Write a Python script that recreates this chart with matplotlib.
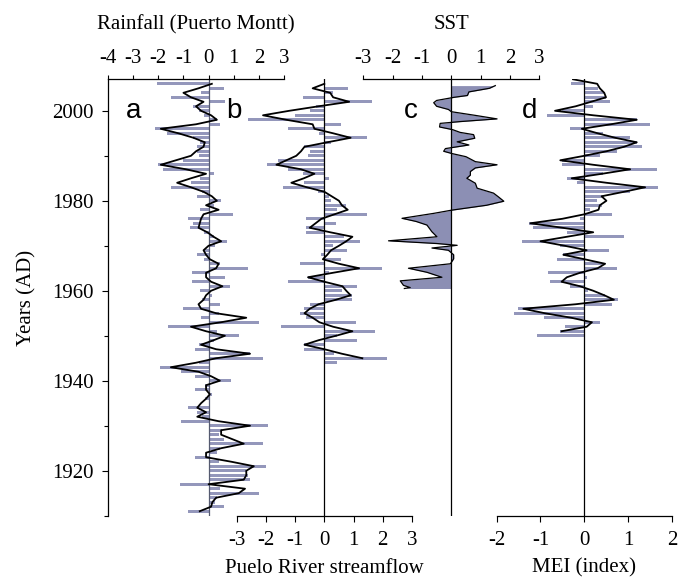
import numpy as np
import matplotlib
matplotlib.use("Agg")
import matplotlib.pyplot as plt

plt.rcParams['font.family'] = ['Liberation Serif', 'DejaVu Serif']
plt.rcParams['axes.unicode_minus'] = False

BAR = '#9497bb'

# a: rainfall (Puerto Montt), 1911-2006
rain_years = list(range(1911, 2007))
rain_bars = [-0.8, 0.6, 0.26, 0.33, 2.0, 0.46, -1.15, 1.65, 1.58, 1.5,
             2.3, 0.4, -0.53, 0.33, 0.46, 2.15, 0.6, 0.4, 0.53, 2.38,
             -1.1, -0.26, -0.46, -0.83, 0.07, -0.13, 0.13, -0.53, -0.13, 0.9,
             -0.53, -1.1, -1.94, -0.4, 2.15, 1.65, -0.53, -0.4, 0.2, 1.23,
             0.33, -1.6, 2.0, -0.3, 0.4, -1.0, 0.46, -0.26, 0.13, -0.33,
             0.86, -0.66, 0.66, -0.66, 1.58, 0.46, -0.2, -0.46, -0.2, 0.26,
             0.73, 0.2, -0.2, -0.73, -0.6, -0.8, 0.96, -0.33, 0.2, 0.5,
             -0.45, -0.26, -1.5, -0.7, -0.33, 0.2, -1.8, -2.0, -1.0, -0.4,
             -0.45, -0.45, -0.33, -0.6, -1.65, -2.15, 0.46, 0.33, -0.2, -0.4,
             -0.6, 0.66, -1.5, -0.3, 0.6, -2.07]
rain_line = [-0.35, 0.1, 0.15, 0.3, 1.2, 1.45, 0.0, 1.4, 1.5, 1.5,
             1.8, 0.9, -0.1, -0.1, 0.5, 1.4, 0.95, 0.5, 0.5, 1.65,
             0.4, -0.45, -0.1, -0.45, -0.3, -0.1, 0.05, -0.1, -0.1, 0.45,
             0.1, -0.4, -1.5, -0.5, 0.3, 1.65, 0.3, -0.3, 0.2, 0.65,
             -0.1, -0.7, 0.5, 1.5, 0.3, -0.3, -0.4, -0.2, -0.1, 0.1,
             0.55, 0.1, -0.1, -0.1, 0.3, 0.4, 0.05, -0.1, -0.2, 0.0,
             0.5, 0.2, -0.05, -0.4, -0.35, -0.3, -0.2, 0.4, -0.1, 0.33,
             0.13, -0.2, -0.7, -1.25, -0.7, -0.1, -0.9, -1.9, -1.3, -0.7,
             -0.5, -0.2, -0.15, -0.6, -1.2, -1.9, -0.5, 0.33, 0.1, -0.3,
             -0.5, -0.2, -0.7, -1.0, -0.4, 0.13]

# b: Puelo River streamflow, 1944-2005 (bars), 1945-2006 (line)
flow_years = list(range(1944, 2006))
flow_bars = [0.45, 2.15, 0.34, -0.68, -0.68, 1.13, 0.45, 1.75, -1.47, 1.1,
             -0.62, -0.85, -0.68, -0.5, 0.96, 0.96, 0.62, 1.13, -1.24, -0.56,
             0.17, 1.98, -0.85, 0.56, -0.12, 0.79, 0.28, 1.22, 0.68, -0.62,
             -0.62, 0.4, -0.62, 1.47, 0.45, 0.73, 0.23, 0.17, -0.23, -1.41,
             -0.68, 0.17, -0.73, -1.24, -1.98, -1.58, -0.56, -0.5, -0.68, 0.23,
             1.47, -0.2, -1.24, 0.56, -2.6, -1.0, -0.5, -0.3, 1.64, -0.73,
             0.3, 0.8]
flow_line_years = list(range(1945, 2007))
flow_line = [1.3, 0.6, 0.0, -0.68, -0.2, 0.4, 0.96, 0.3, -0.17, -0.4,
             -0.68, -0.5, -0.2, 0.4, 0.9, 0.75, 0.62, 0.0, -0.56, 0.3,
             1.19, 0.5, -0.05, 0.1, 0.23, 0.5, 0.75, 0.96, 0.2, -0.5,
             -0.3, -0.1, 0.35, 0.8, 0.6, 0.5, 0.25, 0.0, -0.6, -1.13,
             -0.7, -0.34, -0.8, -1.64, -1.3, -0.96, -0.8, -0.68, 0.1, 0.9,
             0.3, -0.34, -0.4, -1.3, -2.1, -1.2, -0.2, 0.85, 0.3, 0.2,
             -0.4, 0.0]

# c: SST
sst_years = [2005.6, 2005.0, 2004.2, 2003.4, 2003.0, 2002.3, 2001.8, 2001.0,
             2000.3, 1999.8, 1999.0, 1998.2, 1997.6, 1997.2, 1996.4, 1995.8,
             1995.2, 1994.7, 1993.9, 1993.1, 1992.4, 1991.6, 1991.0, 1990.5,
             1989.8, 1988.7, 1988.0, 1987.3, 1986.5, 1985.7, 1985.0, 1983.9,
             1982.8, 1981.7, 1980.9, 1979.9, 1979.0, 1977.9, 1977.2, 1976.1,
             1975.4, 1974.6, 1973.1, 1972.0, 1971.1, 1970.5, 1970.1, 1969.5,
             1969.0, 1968.0, 1967.1, 1966.0, 1965.0, 1964.1, 1963.0, 1962.2,
             1961.2, 1960.7, 1960.5]
sst_vals = [1.5, 1.3, 0.6, 0.55, 0.1, -0.5, -0.6, -0.5,
            -0.1, 0.0, 0.8, 1.56, 0.3, -0.38, -0.4, 0.05,
            0.3, 0.76, 0.8, 0.2, 0.6, -0.2, -0.26, 0.02,
            0.5, 0.82, 1.56, 0.82, 0.65, 0.65, 0.53, 0.82,
            0.88, 1.44, 1.6, 1.79, 1.2, 0.0, -0.6, -1.68,
            -1.2, -0.83, -0.66, -0.49, -2.14, -0.5, 0.2, -0.66,
            -0.1, 0.08, 0.08, -0.03, -1.46, -0.83, -0.32, -1.74,
            -1.63, -1.4, -1.6]

# d: MEI (index), 1950-2006
mei_years = list(range(1950, 2007))
mei_bars = [-1.08, -0.55, -0.45, 0.36, -0.93, -1.61, -1.5, 0.62, 0.77, 0.47,
            0.09, -0.33, -0.78, 0.05, -0.82, 0.73, 0.39, -0.63, -0.48, 0.55,
            -0.55, -1.42, 0.89, -0.4, -1.16, -1.27, -0.1, 0.62, 0.13, 0.39,
            0.28, 0.43, 1.04, 1.68, -0.17, -0.4, 0.43, 1.64, -0.52, -0.52,
            0.36, 0.73, 1.3, 1.19, 1.04, 0.43, -0.33, 1.49, 1.19, -0.86,
            -0.5, 0.2, 0.58, 0.5, 0.45, 0.3, -0.3]
mei_line_years = list(range(1951, 2008))
mei_line = [-0.52, 0.05, 0.17, -0.3, -0.9, -1.39, -0.2, 0.67, 0.45, 0.2,
            -0.1, -0.52, -0.4, -0.1, 0.3, 0.47, 0.0, -0.48, 0.05, -0.45,
            -1.0, -0.4, 0.2, -0.5, -1.23, -0.5, 0.0, 0.32, 0.35, 0.5,
            0.39, 0.9, 1.38, 0.5, -0.29, 0.4, 1.04, 0.2, -0.55, 0.0,
            0.5, 0.9, 1.19, 0.7, 0.3, -0.06, 0.6, 1.19, 0.2, -0.67,
            -0.2, 0.15, 0.49, 0.45, 0.35, 0.29, -0.26]

W, H = 686, 583
FS = 15
fig = plt.figure(figsize=(W / 100, H / 100), dpi=100)


def make_ax(x0, x1, top=79.3, bottom=515.7):
    ax = fig.add_axes([x0 / W, 1 - bottom / H, (x1 - x0) / W, (bottom - top) / H])
    ax.patch.set_alpha(0)
    ax.set_ylim(1910, 2007)
    for s in ax.spines.values():
        s.set_visible(False)
        s.set_linewidth(0.9)
    ax.tick_params(labelsize=FS, width=0.8, direction='out')
    return ax


ax_a = make_ax(108, 284)
ax_b = make_ax(236.7, 412)
ax_c = make_ax(363.3, 539.3)
ax_d = make_ax(496.5, 672.4)

# panel a
ax_a.barh(rain_years, rain_bars, height=0.7, color=BAR)
ax_a.axvline(0, color='#555a70', lw=0.9)
ax_a.plot(rain_line, rain_years, color='black', lw=1.3)
ax_a.set_xlim(-4, 3)
ax_a.spines['left'].set_visible(True)
ax_a.spines['top'].set_visible(True)
ax_a.xaxis.tick_top()
ax_a.xaxis.set_label_position('top')
ax_a.set_xticks(range(-4, 4))
ax_a.set_xlabel('Rainfall (Puerto Montt)', fontsize=FS, labelpad=14)
ax_a.set_yticks([1920, 1940, 1960, 1980, 2000])
ax_a.set_yticks([1910, 1930, 1950, 1970, 1990], minor=True)
ax_a.tick_params(axis='y', which='major', length=4.5, pad=6)
ax_a.tick_params(axis='y', which='minor', length=2.8, width=0.8)
ax_a.tick_params(axis='x', length=3.2, pad=5)
ax_a.set_ylabel('Years (AD)', fontsize=FS, labelpad=11)

# panel b
ax_b.barh(flow_years, flow_bars, height=0.7, color=BAR)
ax_b.axvline(0, color='black', lw=0.9)
ax_b.plot(flow_line, flow_line_years, color='black', lw=1.3)
ax_b.set_xlim(-3, 3)
ax_b.spines['bottom'].set_visible(True)
ax_b.set_xticks(range(-3, 4))
ax_b.set_yticks([])
ax_b.tick_params(axis='x', length=4.2, pad=7)
ax_b.set_xlabel('Puelo River streamflow', fontsize=FS, labelpad=6)

# panel c
ax_c.fill_betweenx(sst_years, 0, sst_vals, color='#8c8fb4', lw=0)
ax_c.plot(sst_vals, sst_years, color='black', lw=0.9)
ax_c.axvline(0, color='black', lw=0.9)
ax_c.set_xlim(-3, 3)
ax_c.spines['top'].set_visible(True)
ax_c.xaxis.tick_top()
ax_c.xaxis.set_label_position('top')
ax_c.set_xticks(range(-3, 4))
ax_c.set_yticks([])
ax_c.tick_params(axis='x', length=3.2, pad=5)
ax_c.set_xlabel('SST', fontsize=FS, labelpad=14)

# panel d
ax_d.barh(mei_years, mei_bars, height=0.7, color=BAR)
ax_d.axvline(0, color='black', lw=0.9)
ax_d.plot(mei_line, mei_line_years, color='black', lw=1.3)
ax_d.set_xlim(-2, 2)
ax_d.spines['bottom'].set_visible(True)
ax_d.set_xticks(range(-2, 3))
ax_d.set_yticks([])
ax_d.tick_params(axis='x', length=4.2, pad=7)
ax_d.set_xlabel('MEI (index)', fontsize=FS, labelpad=6)

# panel letters
letter_kw = dict(fontsize=20, family=['Liberation Sans', 'DejaVu Sans'],
                 ha='center', va='baseline')
ax_a.text(-3.0, 1998.4, 'a', **letter_kw)
ax_b.text(-3.08, 1998.4, 'b', **letter_kw)
ax_c.text(-1.37, 1998.4, 'c', **letter_kw)
ax_d.text(-1.24, 1998.4, 'd', **letter_kw)

fig.savefig('out.png', dpi=100)
